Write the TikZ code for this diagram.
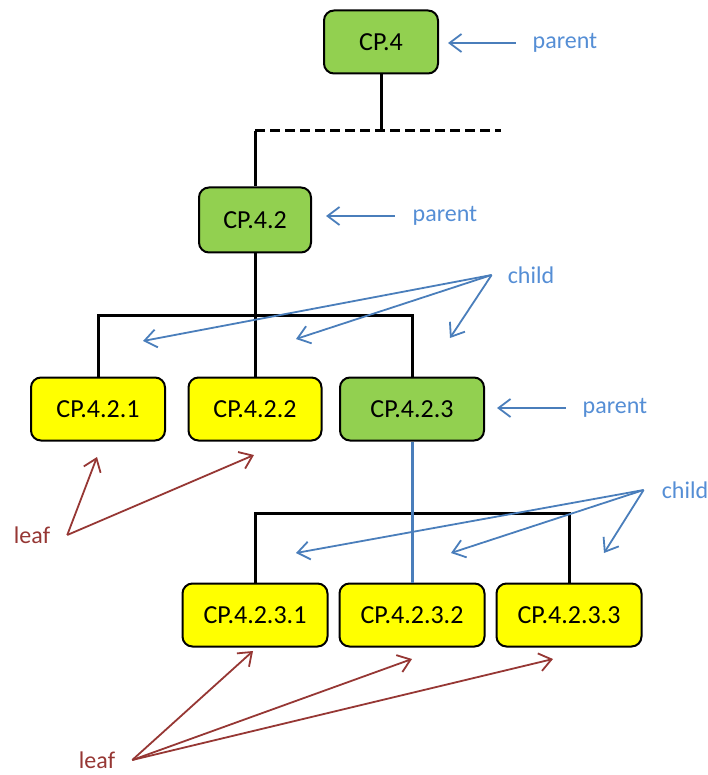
\documentclass[tikz,border=0pt]{standalone}
\usepackage{fontspec}
\setmainfont{Carlito}
\usetikzlibrary{positioning, arrows.meta}

\definecolor{cpgreen}{RGB}{146,208,80}
\definecolor{cpyellow}{RGB}{255,255,0}
\definecolor{tagblue}{RGB}{74,126,187}
\definecolor{tagbluetext}{RGB}{85,142,213}
\definecolor{tagred}{RGB}{150,55,52}

\tikzset{
    cpbox/.style={draw=black, line width=2pt, rounded corners=10pt, minimum height=63pt, font=\fontsize{26}{30}\selectfont},
    parentbox/.style={cpbox, fill=cpgreen},
    leafbox/.style={cpbox, fill=cpyellow},
    link/.style={line width=3pt},
    bluetag/.style={text=tagbluetext, inner sep=0pt, font=\fontsize{24}{28}\selectfont},
    redtag/.style={text=tagred, inner sep=0pt, font=\fontsize{24}{28}\selectfont},
    bluearrow/.style={draw=tagblue, line width=1.8pt, -{Straight Barb[length=12pt,width=18pt]}},
    redarrow/.style={draw=tagred, line width=1.8pt, -{Straight Barb[length=12pt,width=18pt]}}
}

\begin{document}
\begin{tikzpicture}[x=1pt, y=-1pt, node distance=157pt]
        \useasboundingbox (0,0) rectangle (708,775);

        \node[parentbox, minimum width=114pt] (cp4) at (381,42) {CP.4};
        \node[parentbox, minimum width=112pt, minimum height=65pt] (cp42) at (255,220) {CP.4.2};
        \node[leafbox, minimum width=134pt] (cp421) at (98,409) {CP.4.2.1};
        \node[leafbox, minimum width=133pt, right of=cp421] (cp422) {CP.4.2.2};
        \node[parentbox, minimum width=144pt, right of=cp422] (cp423) {CP.4.2.3};
        \node[leafbox, minimum width=145pt, node distance=206pt, below of=cp423] (cp4232) {CP.4.2.3.2};
        \node[leafbox, minimum width=145pt, left of=cp4232] (cp4231) {CP.4.2.3.1};
        \node[leafbox, minimum width=145pt, right of=cp4232] (cp4233) {CP.4.2.3.3};

        \node[bluetag] (par1) at (565,43) {parent};
        \node[bluetag] (par2) at (445,216) {parent};
        \node[bluetag] (par3) at (615,408) {parent};
        \node[bluetag] (child1) at (531,275) {child};
        \node[bluetag] (child2) at (685,490) {child};
        \node[redtag] (leaf1) at (32,535) {leaf};
        \node[redtag] (leaf2) at (97,760) {leaf};

        % tree lines
        \coordinate (bus1) at (cp4.south |- 0,131);
        \coordinate (dashl) at (cp42.north |- bus1);
        \coordinate (dashr) at (501,131);
        \coordinate (bus2) at (cp42.south |- 0,315);
        \coordinate (bus3) at (cp4232.north |- 0,513);

        \draw[link] (cp4.south) -- (bus1);
        \draw[link, dash pattern=on 10pt off 5pt] (dashl) -- (dashr);
        \draw[link] (dashl) -- (cp42.north);
        \draw[link] (cp42.south) -- (bus2);
        \draw[link] (cp421.north) |- (bus2) -| (cp423.north);
        \draw[link] (bus2) -- (cp422.north);
        \draw[link] (cp4231.north) |- (bus3) -| (cp4233.north);
        \draw[link, tagblue] (cp423.south) -- (cp4232.north);

        % labels
        \draw[bluearrow, shorten <=17pt, shorten >=9pt] (par1.west) -- (par1.west -| cp4.east);
        \draw[bluearrow, shorten <=18pt, shorten >=14pt] (par2.west) -- (par2.west -| cp42.east);
        \draw[bluearrow, shorten <=17pt, shorten >=12pt] (par3.west) -- (par3.west -| cp423.east);

        \coordinate[left=16pt of child1] (c1);
        \coordinate (c1a) at (143,341);
        \coordinate (c1b) at (296,339);
        \coordinate (c1c) at (450,338);
        \draw[bluearrow] (c1) -- (c1a);
        \draw[bluearrow] (c1) -- (c1b);
        \draw[bluearrow] (c1) -- (c1c);

        \coordinate[left=18pt of child2] (c2);
        \coordinate (c2a) at (296,553);
        \coordinate (c2b) at (451,553);
        \coordinate (c2c) at (604,553);
        \draw[bluearrow] (c2) -- (c2a);
        \draw[bluearrow] (c2) -- (c2b);
        \draw[bluearrow] (c2) -- (c2c);

        \coordinate[right=17pt of leaf1] (l1);
        \coordinate (l1a) at (97,457);
        \coordinate (l1b) at (254,455);
        \draw[redarrow] (l1) -- (l1a);
        \draw[redarrow] (l1) -- (l1b);

        \coordinate[right=17pt of leaf2] (l2);
        \coordinate (l2a) at (253,651);
        \coordinate (l2b) at (412,659);
        \coordinate (l2c) at (553,659);
        \draw[redarrow] (l2) -- (l2a);
        \draw[redarrow] (l2) -- (l2b);
        \draw[redarrow] (l2) -- (l2c);

\end{tikzpicture}
\end{document}
